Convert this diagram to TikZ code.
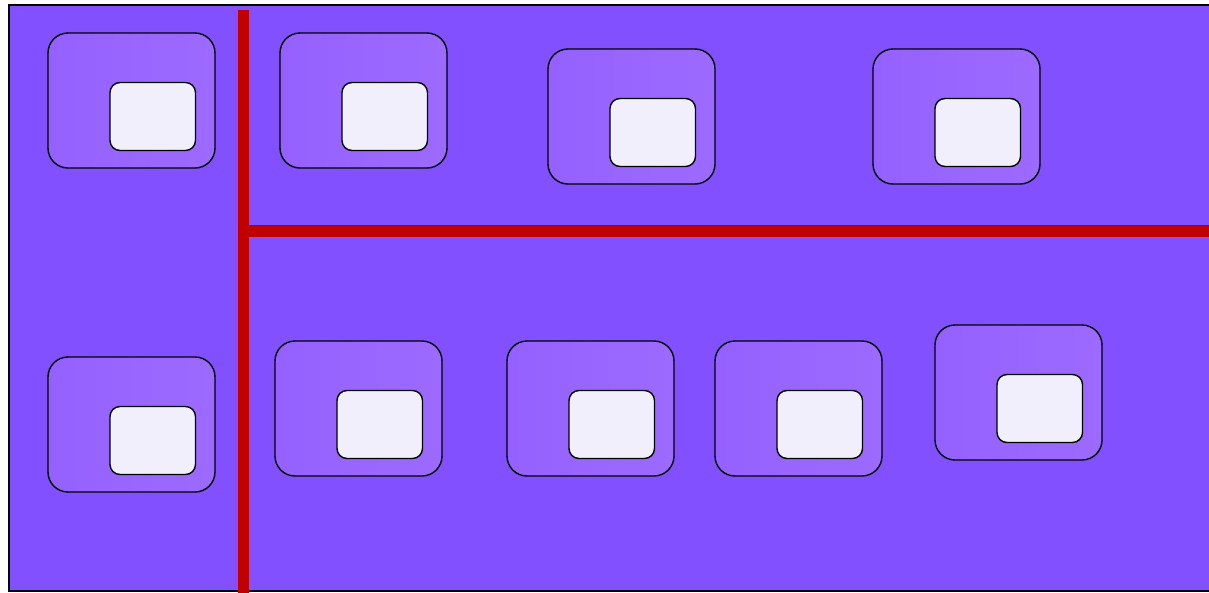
\documentclass[tikz,border=0pt]{standalone}
\usetikzlibrary{calc}
\begin{document}
\begin{tikzpicture}[x=1pt,y=-1pt,
  bgpanel/.style={fill=bgc,draw=black,line width=1.5pt},
  outerbox/.style={draw=black,line width=1.4pt,rounded corners=20pt,left color=obl,right color=obr,minimum width=167pt,minimum height=135pt,inner sep=0pt,outer sep=0pt},
  innerbox/.style={draw=black,line width=1.4pt,rounded corners=10pt,fill=inc,minimum width=85.5pt,minimum height=68pt,inner sep=0pt,outer sep=0pt},
  divider/.style={draw=redc,line width=11.5pt}]
\definecolor{bgc}{RGB}{130,80,255}
\definecolor{obl}{RGB}{148,97,255}
\definecolor{obr}{RGB}{157,106,255}
\definecolor{inc}{RGB}{241,239,252}
\definecolor{redc}{RGB}{192,0,0}
\useasboundingbox (0,0) rectangle (1209,592);
\clip (0,0) rectangle (1209,592);
\draw[bgpanel] (9,5) rectangle (1216,591);
\coordinate (vt) at (243.5,10);
\coordinate (vb) at (243.5,596);
\coordinate (hl) at (243.5,231);
\coordinate (hr) at (1215,231);
\draw[divider] (vt) -- (vb);
\draw[divider] (hl) -- (hr);
\foreach \i/\x/\y in {1/48/33,2/280/33,3/548/49,4/873/49,5/48/357,6/275/341,7/507/341,8/715/341,9/935/325}{
  \node[outerbox,anchor=north west] (o\i) at (\x,\y) {};
  \node[innerbox,anchor=north west] (n\i) at ($(\x,\y)+(62,49.5)$) {};
}
\end{tikzpicture}
\end{document}
